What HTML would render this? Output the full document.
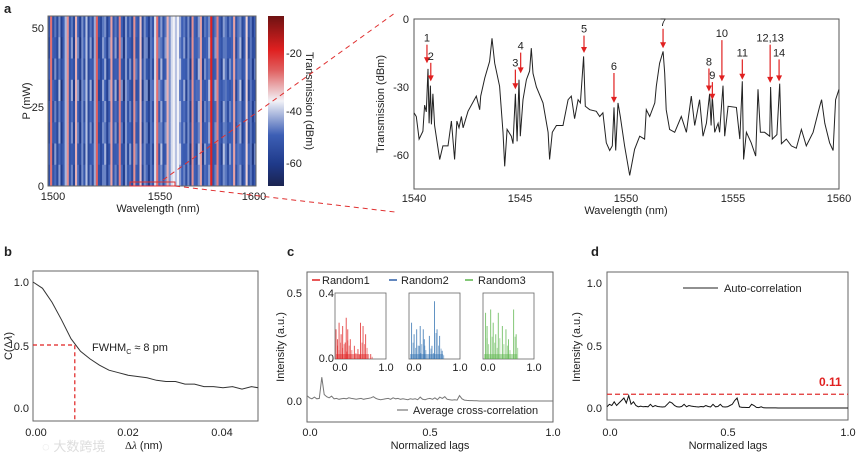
<!DOCTYPE html>
<html><head><meta charset="utf-8"><style>
html,body{margin:0;padding:0;background:#fff;}
svg{display:block;font-family:"Liberation Sans","Noto Sans CJK SC",sans-serif;}
text{fill:#222;font-size:11px;}
.b{font-weight:bold;font-size:13px;}
</style></head><body>
<svg id="fig" width="865" height="460" viewBox="0 0 865 460">
<text class="b" x="4" y="13">a</text>
<text class="b" x="4" y="256">b</text>
<text class="b" x="287" y="256">c</text>
<text class="b" x="591" y="256">d</text>

<g id="heat"></g>
<rect x="48" y="16" width="208" height="170" fill="none" stroke="#666"/>
<rect x="130" y="182" width="45" height="4" fill="none" stroke="#e03030" stroke-width="1"/>
<g>
<text x="44" y="32" text-anchor="end">50</text><text x="44" y="111" text-anchor="end">25</text><text x="44" y="190" text-anchor="end">0</text>
</g>
<g>
<text x="53" y="200" text-anchor="middle">1500</text><text x="160" y="200" text-anchor="middle">1550</text><text x="254" y="200" text-anchor="middle">1600</text>
</g>
<text x="158" y="212" text-anchor="middle">Wavelength (nm)</text>
<text transform="translate(30,101) rotate(-90)" text-anchor="middle">P (mW)</text>
<defs><linearGradient id="cb" x1="0" y1="1" x2="0" y2="0">
<stop offset="0" stop-color="#1b2450"/><stop offset="0.13" stop-color="#1f3a8a"/><stop offset="0.3" stop-color="#3d5fb5"/>
<stop offset="0.5" stop-color="#f2f2f7"/><stop offset="0.68" stop-color="#e06060"/><stop offset="0.8" stop-color="#e02020"/><stop offset="1" stop-color="#6e1212"/></linearGradient></defs>
<rect x="268" y="16" width="16" height="170" fill="url(#cb)"/>
<g>
<text x="286" y="57">-20</text><text x="286" y="115">-40</text><text x="286" y="167">-60</text>
</g>
<text transform="translate(306,101) rotate(90)" text-anchor="middle">Transmission (dBm)</text>
<line x1="163" y1="180" x2="395" y2="13" stroke="#e03030" stroke-dasharray="5,4"/>
<line x1="175" y1="186" x2="395" y2="212" stroke="#e03030" stroke-dasharray="5,4"/>

<rect x="414" y="19" width="425" height="170" fill="none" stroke="#555"/>
<g id="spec"></g>
<g>
<text x="409" y="23" text-anchor="end">0</text><text x="409" y="91" text-anchor="end">-30</text><text x="409" y="159" text-anchor="end">-60</text>
</g>
<g>
<text x="414" y="202" text-anchor="middle">1540</text><text x="520" y="202" text-anchor="middle">1545</text><text x="626" y="202" text-anchor="middle">1550</text><text x="733" y="202" text-anchor="middle">1555</text><text x="839" y="202" text-anchor="middle">1560</text>
</g>
<text x="626" y="214" text-anchor="middle">Wavelength (nm)</text>
<text transform="translate(384,104) rotate(-90)" text-anchor="middle">Transmission (dBm)</text>

<rect x="33" y="271" width="225" height="150" fill="none" stroke="#666"/>
<g id="pb"></g>
<g>
<text x="29" y="286" text-anchor="end">1.0</text><text x="29" y="350" text-anchor="end">0.5</text><text x="29" y="412" text-anchor="end">0.0</text>
</g>
<g>
<text x="36" y="436" text-anchor="middle">0.00</text><text x="128" y="436" text-anchor="middle">0.02</text><text x="222" y="436" text-anchor="middle">0.04</text>
</g>
<text x="92" y="351">FWHM<tspan font-size="7" dy="3">C</tspan><tspan dy="-3"> ≈ 8 pm</tspan></text>
<text x="125" y="449" font-family="Liberation Serif">Δ<tspan font-style="italic">λ</tspan><tspan font-family="Liberation Sans"> (nm)</tspan></text>
<text transform="translate(12,346) rotate(-90)" text-anchor="middle">C(Δ<tspan font-style="italic">λ</tspan>)</text>
<text x="42" y="451" style="fill:#ddd;font-size:13px">◌ 大数跨境</text>

<rect x="307" y="272" width="246" height="150" fill="none" stroke="#666"/>
<g id="pc"></g>
<g>
<text x="302" y="297" text-anchor="end">0.5</text><text x="302" y="405" text-anchor="end">0.0</text>
</g>
<g>
<text x="310" y="436" text-anchor="middle">0.0</text><text x="430" y="436" text-anchor="middle">0.5</text><text x="553" y="436" text-anchor="middle">1.0</text>
</g>
<text x="430" y="449" text-anchor="middle">Normalized lags</text>
<text transform="translate(284,347) rotate(-90)" text-anchor="middle">Intensity (a.u.)</text>
<g>
<line x1="312" y1="280" x2="320" y2="280" stroke="#e02020" stroke-width="1.5"/><text x="322" y="284">Random1</text>
<line x1="389" y1="280" x2="397" y2="280" stroke="#2e5fa8" stroke-width="1.5"/><text x="401" y="284">Random2</text>
<line x1="465" y1="280" x2="473" y2="280" stroke="#5ab54a" stroke-width="1.5"/><text x="478" y="284">Random3</text>
<line x1="397" y1="410" x2="408" y2="410" stroke="#777" stroke-width="1.2"/><text x="413" y="414">Average cross-correlation</text>
</g>
<g id="insets"></g>

<rect x="607" y="272" width="241" height="148" fill="none" stroke="#666"/>
<g id="pd"></g>
<g>
<text x="602" y="287" text-anchor="end">1.0</text><text x="602" y="350" text-anchor="end">0.5</text><text x="602" y="412" text-anchor="end">0.0</text>
</g>
<g>
<text x="610" y="436" text-anchor="middle">0.0</text><text x="728" y="436" text-anchor="middle">0.5</text><text x="848" y="436" text-anchor="middle">1.0</text>
</g>
<text x="728" y="449" text-anchor="middle">Normalized lags</text>
<text transform="translate(580,347) rotate(-90)" text-anchor="middle">Intensity (a.u.)</text>
<line x1="683" y1="288" x2="718" y2="288" stroke="#222"/>
<text x="724" y="292">Auto-correlation</text>
<text x="819" y="386" style="fill:#e02020;font-weight:bold;font-size:12px">0.11</text>
</svg>
<script>
const NS="http://www.w3.org/2000/svg";
const heatCols=[-55,-32,-56,-50,-58,-48,-60,-52,-45,-34,-55,-50,-58,-36,-52,-60,-48,-55,-44,-58,-50,-56,-46,-31,-55,-58,-50,-48,-60,-52,-35,-55,-50,-56,-33,-52,-60,-47,-55,-50,-58,-34,-52,-55,-37,-58,-48,-52,-60,-50,-55,-42,-32,-52,-47,-56,-50,-36,-48,-42,-40,-44,-40,-46,-52,-50,-56,-48,-60,-34,-52,-55,-47,-35,-58,-50,-52,-48,-24,-55,-50,-33,-52,-58,-47,-50,-56,-50,-52,-35,-55,-50,-48,-58,-52,-38,-55,-50,-60,-52];
const heatRows=[0,3,-2,4,-1,2,-3,1];
const specNm=[1540.00,1540.11,1540.24,1540.42,1540.50,1540.58,1540.66,1540.71,1540.77,1540.82,1540.89,1540.97,1541.21,1541.36,1541.60,1541.76,1541.91,1542.02,1542.12,1542.23,1542.31,1542.54,1542.93,1543.09,1543.14,1543.33,1543.56,1543.67,1543.80,1544.03,1544.19,1544.27,1544.38,1544.58,1544.66,1544.77,1544.85,1544.94,1545.00,1545.13,1545.29,1545.44,1545.52,1545.60,1545.76,1546.07,1546.31,1546.38,1546.51,1546.70,1547.01,1547.25,1547.40,1547.56,1547.72,1547.83,1547.98,1548.06,1548.27,1548.58,1548.74,1548.89,1549.05,1549.21,1549.33,1549.41,1549.49,1549.60,1549.71,1549.91,1550.15,1550.38,1550.62,1550.85,1550.93,1551.09,1551.33,1551.40,1551.56,1551.72,1551.80,1551.87,1552.03,1552.27,1552.58,1552.82,1553.05,1553.21,1553.44,1553.60,1553.76,1553.91,1553.98,1554.04,1554.15,1554.31,1554.38,1554.54,1554.62,1554.78,1555.17,1555.33,1555.45,1555.51,1555.64,1555.87,1556.08,1556.19,1556.30,1556.50,1556.74,1556.78,1556.86,1557.08,1557.21,1557.29,1557.52,1557.76,1557.99,1558.23,1558.46,1558.78,1559.09,1559.18,1559.33,1559.56,1559.72,1559.84,1560.00];
const specDb=[-41.4,-43,-53,-49.5,-38,-41,-22,-46,-29.4,-46.5,-33,-47,-62,-56,-56,-45,-62,-45,-48,-43,-48,-40.7,-34,-40,-34,-26,-18.7,-8.5,-19.5,-29.7,-50,-65,-48.7,-51.7,-55,-33,-54,-26.8,-51.7,-35.6,-26.8,-23,-12.9,-24,-30,-37,-50,-62,-50,-47,-47,-35.6,-34,-44,-35.6,-37,-16.5,-38.5,-40,-40.7,-43,-41.4,-54.6,-58,-56,-39,-58,-37,-43,-56,-69,-57.5,-51.7,-53,-40,-43,-37,-29.7,-19.5,-14.3,-24,-40,-48.7,-50,-43,-50,-34,-47,-35.6,-51.7,-46,-33,-47,-34,-50,-46,-50,-29.4,-51.7,-38.5,-39,-53,-27.5,-62,-50,-54.6,-60.5,-31,-50,-50,-51.7,-30,-53,-51,-28.5,-55,-53,-56,-57,-48.7,-56,-50,-38.5,-35.6,-46,-54.6,-58,-35.6,-31];
const markLabels=["1","2","3","4","5","6","7","8","9","10","11","12,13","14"];
const markNm=[1540.61,1540.79,1544.77,1545.02,1548.0,1549.41,1551.72,1553.88,1554.04,1554.49,1555.45,1556.76,1557.18];
const markLabelDb=[-10,-18,-21,-13.5,-6,-22.5,-3,-20.5,-26.5,-8,-16.5,-10,-16.5];
const markTipDb=[-19.5,-27.5,-31,-24,-15,-37,-12.9,-32,-35.6,-27.5,-26.8,-28.2,-27.5];
const bX=[0,0.002,0.004,0.006,0.008,0.010,0.012,0.014,0.016,0.018,0.020,0.022,0.024,0.026,0.028,0.030,0.032,0.034,0.036,0.038,0.040,0.042,0.044,0.046,0.0474];
const bC=[1.0,0.95,0.84,0.70,0.55,0.45,0.39,0.34,0.30,0.28,0.26,0.25,0.24,0.22,0.21,0.21,0.19,0.19,0.17,0.17,0.16,0.17,0.15,0.17,0.16];
const fwhmX=0.0088;
const cAvg=[0.025,0.015,0.01,0.018,0.01,0.012,0.11,0.03,0.02,0.015,0.022,0.01,0.012,0.008,0.01,0.012,0.01,0.015,0.012,0.01,0.008,0.01,0.012,0.008,0.01,0.012,0.015,0.02,0.012,0.008,0.006,0.008,0.01,0.012,0.008,0.015,0.01,0.012,0.008,0.01,0.008,0.006,0.01,0.008,0.01,0.006,0.018,0.008,0.006,0.01,0.012,0.008,0.015,0.006,0.018,0.012,0.02,0.008,0.006,0.004,0.006,0.004,0.025,0.01,0.004,0.003,0.002,0.002,0.001,0.001];
const r1Lag=[0.02,0.05,0.08,0.12,0.15,0.2,0.22,0.25,0.3,0.38,0.45,0.5,0.55,0.6,0.7];
const r1Val=[0.18,0.12,0.22,0.15,0.2,0.1,0.25,0.18,0.12,0.08,0.06,0.22,0.2,0.15,0.03];
const r2Lag=[0.05,0.1,0.15,0.2,0.22,0.28,0.3,0.4,0.45,0.5,0.55,0.6,0.65];
const r2Val=[0.22,0.15,0.18,0.08,0.2,0.18,0.12,0.14,0.08,0.35,0.18,0.14,0.05];
const r3Lag=[0.05,0.08,0.15,0.2,0.25,0.3,0.38,0.45,0.5,0.6,0.65];
const r3Val=[0.28,0.2,0.3,0.22,0.15,0.28,0.2,0.18,0.12,0.3,0.15];
const dAuto=[0.01,0.03,0.02,0.05,0.02,0.04,0.06,0.08,0.04,0.1,0.03,0.05,0.02,0.01,0.015,0.01,0.012,0.01,0.03,0.01,0.02,0.012,0.01,0.008,0.01,0.03,0.05,0.04,0.02,0.01,0.008,0.012,0.03,0.01,0.02,0.015,0.012,0.01,0.008,0.012,0.01,0.02,0.012,0.008,0.03,0.01,0.012,0.03,0.01,0.008,0.01,0.02,0.03,0.06,0.08,0.01,0.005,0.005,0.004,0.004,0.03,0.02,0.005,0.003,0.01,0.002,0.001,0.001,0.001,0.001,0.001,0];
const dThresh=0.11;

function mk(tag,attrs,parent){const e=document.createElementNS(NS,tag);for(const k in attrs)e.setAttribute(k,attrs[k]);parent.appendChild(e);return e;}
function lin(d0,d1,r0,r1){return v=>r0+(v-d0)/(d1-d0)*(r1-r0);}
function pts(xs,ys,sx,sy){return xs.map((x,i)=>sx(x).toFixed(1)+","+sy(ys[i]).toFixed(1)).join(" ");}

function cmap(v){const stops=[[-68,[27,36,80]],[-62,[31,58,138]],[-52,[61,95,181]],[-40,[242,242,247]],[-31,[224,96,96]],[-24,[224,32,32]],[-7,[110,18,18]]];
 if(v<=stops[0][0])return "rgb("+stops[0][1]+")";for(let i=1;i<stops.length;i++){if(v<=stops[i][0]){const t=(v-stops[i-1][0])/(stops[i][0]-stops[i-1][0]);const c=stops[i-1][1].map((a,j)=>Math.round(a+(stops[i][1][j]-a)*t));return "rgb("+c+")";}}return "rgb(110,18,18)";}
const heat=document.getElementById("heat");
const hx=lin(0,heatCols.length,48,256), hy=lin(0,heatRows.length,16,186);
heatCols.forEach((v,i)=>{heatRows.forEach((rv,j)=>{
 const val=v<-45?v+rv*((i%3)-1):v;
 const r=mk("rect",{x:hx(i).toFixed(2),y:hy(j).toFixed(2),width:(hx(i+1)-hx(i)+0.3).toFixed(2),height:(hy(j+1)-hy(j)+0.3).toFixed(2),fill:cmap(val)},heat);
 
 });});

const spec=document.getElementById("spec");
const sx=lin(1540,1560,414,839), sy=lin(0,-75,19,189);
const sl=mk("polyline",{points:pts(specNm,specDb,sx,sy),fill:"none",stroke:"#222","stroke-width":1},spec);


markNm.forEach((n,i)=>{const x=sx(n),ly=sy(markLabelDb[i]),ty=sy(markTipDb[i]);
 const t=mk("text",{x:x,y:ly,"text-anchor":"middle"},spec);t.textContent=markLabels[i];
 
 
 const l=mk("line",{x1:x,y1:ly+3,x2:x,y2:ty-5,stroke:"#e02020","stroke-width":1.2},spec);
 
 
 const h=mk("polygon",{points:(x-3)+","+(ty-6)+" "+(x+3)+","+(ty-6)+" "+x+","+ty,fill:"#e02020"},spec);
 
 });

const pb=document.getElementById("pb");
const bx=lin(0,0.02,33,128), by=lin(0,1,408,282);
const bl=mk("polyline",{points:pts(bX,bC,bx,by),fill:"none",stroke:"#333","stroke-width":1},pb);


const bh=mk("polyline",{points:bx(0)+","+by(0.5)+" "+bx(fwhmX)+","+by(0.5)+" "+bx(fwhmX)+",421",fill:"none",stroke:"#e02020","stroke-dasharray":"4,3","stroke-width":1.2},pb);



const pc=document.getElementById("pc");
const cx=lin(0,1,307,553), cy=lin(0,0.5,401,293);
const cLag=cAvg.map((v,i)=>i*0.01).concat([0.7,1.0]);
const cl=mk("polyline",{points:pts(cLag,cAvg.concat([0,0]),cx,cy),fill:"none",stroke:"#777","stroke-width":1},pc);


const ins=document.getElementById("insets");
[[r1Lag,r1Val,"#e02020",335],[r2Lag,r2Val,"#2e6fb0",409],[r3Lag,r3Val,"#5ab54a",483]].forEach((s,k)=>{
 const x0=s[3],ix=lin(0,1,x0,x0+51),iy=lin(0,0.4,359,293);
 const f=mk("rect",{x:x0,y:293,width:51,height:66,fill:"#fff",stroke:"#666","stroke-width":0.8},ins);
 
 
 s[0].forEach((lg,i)=>{const l=mk("line",{x1:ix(lg),x2:ix(lg),y1:359,y2:iy(s[1][i]),stroke:s[2],"stroke-width":1,opacity:0.75},ins);
  
  
  const l2=mk("line",{x1:ix(lg)+1.5,x2:ix(lg)+1.5,y1:359,y2:iy(s[1][i]*0.45),stroke:s[2],"stroke-width":1,opacity:0.5},ins);
  
  });
 const b=mk("rect",{x:x0+1,y:iy(0.03),width:ix(0.65)-x0,height:359-iy(0.03),fill:s[2],opacity:0.45},ins);
 
 
 const t1=mk("text",{x:x0+5,y:371,"text-anchor":"middle"},ins);t1.textContent="0.0";
 
 
 const t2=mk("text",{x:x0+51,y:371,"text-anchor":"middle"},ins);t2.textContent="1.0";
 
 
 if(k===0){const a=mk("text",{x:x0-1,y:297,"text-anchor":"end"},ins);a.textContent="0.4";
  
  
  const z=mk("text",{x:x0-1,y:362,"text-anchor":"end"},ins);z.textContent="0.0";
  
  }
});

const pd=document.getElementById("pd");
const dx=lin(0,1,607,848), dy=lin(0,1,408,283);
const dLag=dAuto.map((v,i)=>i*0.01).concat([1.0]);
const dl=mk("polyline",{points:pts(dLag,dAuto.concat([0]),dx,dy),fill:"none",stroke:"#111","stroke-width":1},pd);


const th=mk("line",{x1:607,x2:848,y1:dy(dThresh),y2:dy(dThresh),stroke:"#e03030","stroke-dasharray":"5,3","stroke-width":1.2},pd);


</script>
</body></html>
